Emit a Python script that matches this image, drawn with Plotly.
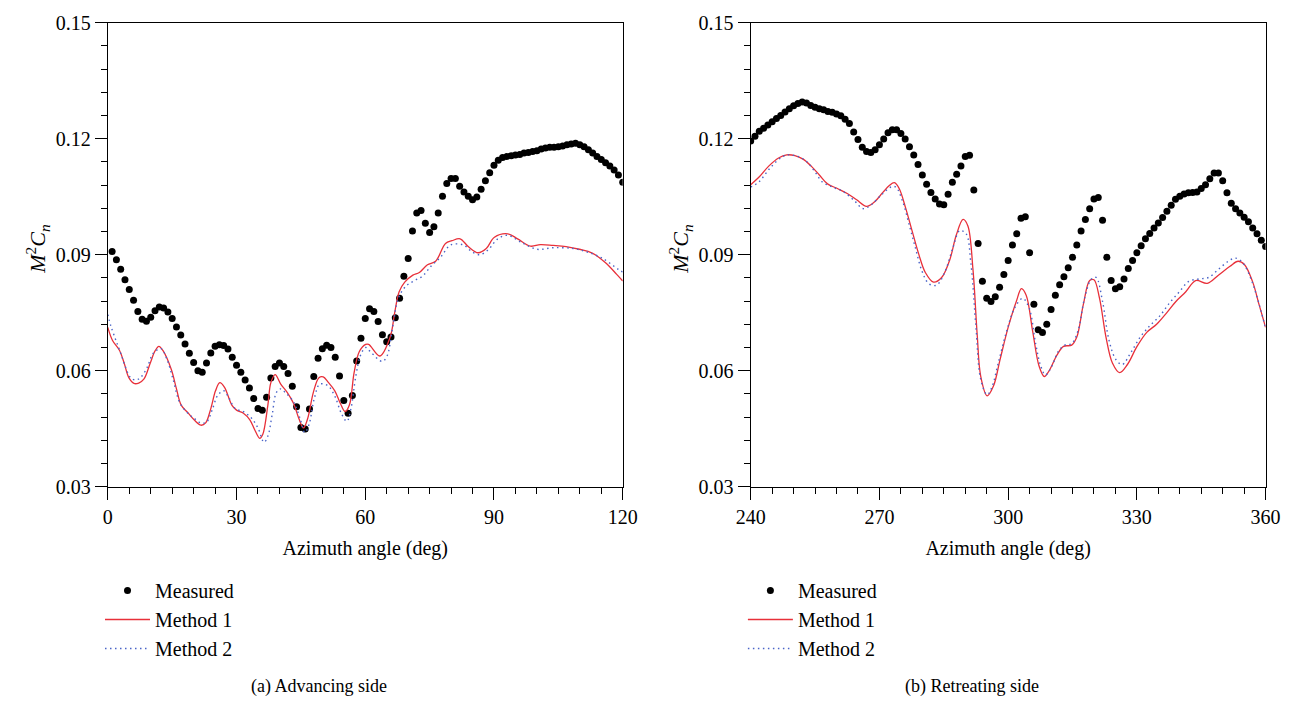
import plotly.graph_objects as go

W, H = 1306, 706

# ---------------- Left panel: advancing side ----------------
adv_meas_deg = list(range(1, 121))
adv_meas_val = [0.0908, 0.0887, 0.0862, 0.0835, 0.0810, 0.0782, 0.0753, 0.0733, 0.0728, 0.0738,
                0.0755, 0.0765, 0.0762, 0.0752, 0.0735, 0.0713, 0.0692, 0.0669, 0.0645, 0.0621,
                0.0600, 0.0596, 0.0620, 0.0646, 0.0663, 0.0667, 0.0665, 0.0656, 0.0635, 0.0614,
                0.0596, 0.0576, 0.0555, 0.0528, 0.0502, 0.0498, 0.0531, 0.0581, 0.0611, 0.0620,
                0.0611, 0.0593, 0.0560, 0.0507, 0.0453, 0.0449, 0.0501, 0.0585, 0.0632, 0.0657,
                0.0666, 0.0660, 0.0635, 0.0586, 0.0523, 0.0490, 0.0536, 0.0625, 0.0684, 0.0735,
                0.0760, 0.0753, 0.0727, 0.0693, 0.0675, 0.0687, 0.0737, 0.0787, 0.0844, 0.0890,
                0.0961, 0.1008, 0.1014, 0.0981, 0.0957, 0.0972, 0.1008, 0.1051, 0.1084, 0.1097,
                0.1097, 0.1077, 0.1062, 0.1051, 0.1042, 0.1049, 0.1069, 0.1091, 0.1112, 0.1131,
                0.1144, 0.1151, 0.1154, 0.1156, 0.1158, 0.1159, 0.1163, 0.1164, 0.1167, 0.1169,
                0.1173, 0.1176, 0.1178, 0.1178, 0.1179, 0.1181, 0.1184, 0.1186, 0.1188, 0.1184,
                0.1179, 0.1171, 0.1163, 0.1154, 0.1146, 0.1138, 0.1129, 0.1119, 0.1106, 0.1087]

adv_m1_deg = [0, 1.1, 2.7, 3.8, 4.9, 6.1, 7.2, 8.4, 9.9, 11.0, 11.9, 12.9, 14.8, 16.0, 17.1, 18.6,
              20.1, 21.7, 22.8, 24.0, 25.1, 26.1, 27.2, 28.9, 30.0, 31.6, 33.1, 34.2, 35.4, 36.1,
              37.3, 38.0, 39.0, 40.3, 41.8, 43.3, 44.5, 45.6, 46.6, 47.9, 49.2, 50.2, 51.3, 52.9,
              54.2, 55.3, 56.3, 57.4, 58.6, 60.1, 60.8, 63.4, 65.8, 66.9, 67.9, 69.2, 71.1, 72.6,
              74.5, 76.4, 78.7, 80.2, 82.1, 84.0, 86.3, 88.2, 90.1, 93.2, 95.5, 98.5, 100.8, 103.8,
              106.8, 109.9, 112.9, 116.0, 118.6, 120.0]
adv_m1_val = [0.0712, 0.0678, 0.0653, 0.0620, 0.0582, 0.0567, 0.0568, 0.0578, 0.0620, 0.0651,
              0.0663, 0.0651, 0.0603, 0.0553, 0.0511, 0.0492, 0.0473, 0.0459, 0.0465, 0.0502,
              0.0548, 0.0569, 0.0557, 0.0511, 0.0498, 0.0490, 0.0473, 0.0448, 0.0425, 0.0435,
              0.0511, 0.0569, 0.0590, 0.0565, 0.0544, 0.0515, 0.0477, 0.0452, 0.0477, 0.0544,
              0.0582, 0.0584, 0.0571, 0.0548, 0.0515, 0.0494, 0.0511, 0.0595, 0.0649, 0.0668,
              0.0668, 0.0638, 0.0687, 0.0753, 0.0804, 0.0829, 0.0847, 0.0854, 0.0874, 0.0883,
              0.0929, 0.0936, 0.0941, 0.0921, 0.0905, 0.0916, 0.0945, 0.0954, 0.0941, 0.0922,
              0.0926, 0.0924, 0.0921, 0.0914, 0.0904, 0.0879, 0.0849, 0.0832]

adv_m2_deg = [0, 0.7, 1.9, 3.0, 4.2, 5.3, 6.5, 7.6, 9.1, 10.6, 12.4, 13.7, 15.2, 16.7, 18.3, 20.1,
              21.7, 23.0, 24.3, 25.6, 27.0, 28.1, 29.7, 31.6, 33.5, 35.0, 36.4, 37.3, 38.3, 39.3,
              40.3, 41.4, 43.3, 44.9, 45.9, 46.9, 48.1, 49.4, 51.3, 53.0, 54.4, 55.7, 56.6, 57.8,
              58.9, 60.1, 61.2, 63.9, 65.0, 66.5, 67.7, 69.6, 71.5, 73.4, 75.3, 77.6, 79.9, 82.9,
              84.8, 86.7, 88.6, 90.9, 93.2, 96.2, 100.0, 103.8, 108.4, 111.4, 115.2, 119.0, 120.0]
adv_m2_val = [0.0745, 0.0716, 0.0678, 0.0645, 0.0607, 0.0582, 0.0576, 0.0582, 0.0607, 0.0645,
              0.0657, 0.0632, 0.0578, 0.0519, 0.0494, 0.0477, 0.0465, 0.0467, 0.0498, 0.0536,
              0.0548, 0.0532, 0.0502, 0.0494, 0.0477, 0.0452, 0.0415, 0.0431, 0.0486, 0.0544,
              0.0553, 0.0543, 0.0519, 0.0473, 0.0440, 0.0461, 0.0527, 0.0565, 0.0561, 0.0532,
              0.0490, 0.0469, 0.0498, 0.0586, 0.0640, 0.0660, 0.0649, 0.0624, 0.0636, 0.0720,
              0.0787, 0.0820, 0.0833, 0.0845, 0.0870, 0.0894, 0.0925, 0.0925, 0.0908, 0.0900,
              0.0912, 0.0941, 0.0950, 0.0933, 0.0914, 0.0918, 0.0916, 0.0908, 0.0891, 0.0862,
              0.0855]

# ---------------- Right panel: retreating side ----------------
ret_meas_deg = list(range(240, 361))
ret_meas_val = [0.1194, 0.1206, 0.1219, 0.1227, 0.1235, 0.1244, 0.1252, 0.1260, 0.1269, 0.1277,
                0.1285, 0.1291, 0.1295, 0.1292, 0.1286, 0.1281, 0.1277, 0.1275, 0.1270, 0.1268,
                0.1264, 0.1259, 0.1250, 0.1239, 0.1217, 0.1198, 0.1178, 0.1167, 0.1164, 0.1171,
                0.1184, 0.1199, 0.1215, 0.1223, 0.1223, 0.1213, 0.1199, 0.1179, 0.1158, 0.1133,
                0.1106, 0.1082, 0.1061, 0.1044, 0.1031, 0.1029, 0.1056, 0.1087, 0.1108, 0.1129,
                0.1154, 0.1157, 0.1067, 0.0929, 0.0831, 0.0787, 0.0779, 0.0791, 0.0816, 0.0849,
                0.0885, 0.0925, 0.0954, 0.0994, 0.0998, 0.0905, 0.0772, 0.0706, 0.0699, 0.0720,
                0.0758, 0.0795, 0.0822, 0.0843, 0.0866, 0.0893, 0.0925, 0.0961, 0.0991, 0.1019,
                0.1044, 0.1048, 0.0989, 0.0893, 0.0833, 0.0812, 0.0817, 0.0837, 0.0864, 0.0885,
                0.0905, 0.0923, 0.0941, 0.0955, 0.0969, 0.0982, 0.0996, 0.1012, 0.1028, 0.1043,
                0.1051, 0.1057, 0.1060, 0.1061, 0.1062, 0.1071, 0.1081, 0.1096, 0.1111, 0.1111,
                0.1091, 0.1060, 0.1033, 0.1019, 0.1008, 0.0997, 0.0985, 0.0969, 0.0954, 0.0937,
                0.0921]

ret_m1_deg = [240.0, 241.9, 244.2, 246.5, 248.4, 250.3, 252.2, 254.1, 256.0, 257.9, 260.2, 262.5,
              264.7, 267.0, 268.9, 270.8, 272.3, 273.5, 274.6, 276.1, 277.6, 279.2, 280.7, 282.6,
              284.5, 286.4, 287.9, 289.5, 290.6, 291.8, 292.8, 293.6, 295.1, 296.6, 298.1, 300.0,
              301.9, 303.1, 304.2, 305.7, 307.2, 308.4, 309.5, 311.4, 312.9, 314.8, 316.0, 317.5,
              319.0, 320.0, 321.3, 322.8, 324.3, 326.0, 327.8, 330.0, 332.3, 334.6, 336.9, 339.1,
              341.4, 343.7, 346.4, 349.0, 351.7, 353.6, 355.1, 357.0, 358.5, 360.0]
ret_m1_val = [0.1081, 0.1100, 0.1129, 0.1150, 0.1158, 0.1156, 0.1147, 0.1129, 0.1106, 0.1083,
              0.1071, 0.1058, 0.1042, 0.1025, 0.1037, 0.1061, 0.1079, 0.1086, 0.1071, 0.1021,
              0.0962, 0.0900, 0.0854, 0.0829, 0.0841, 0.0887, 0.0950, 0.0991, 0.0975, 0.0862,
              0.0691, 0.0586, 0.0535, 0.0561, 0.0628, 0.0712, 0.0779, 0.0812, 0.0795, 0.0703,
              0.0612, 0.0585, 0.0599, 0.0641, 0.0663, 0.0666, 0.0687, 0.0770, 0.0833, 0.0835,
              0.0787, 0.0687, 0.0620, 0.0595, 0.0616, 0.0662, 0.0699, 0.0720, 0.0749, 0.0779,
              0.0804, 0.0833, 0.0826, 0.0847, 0.0870, 0.0883, 0.0874, 0.0829, 0.0770, 0.0712]

ret_m2_deg = [240.0, 241.9, 244.6, 247.2, 248.7, 251.0, 252.9, 254.8, 256.7, 259.0, 261.6, 264.3,
              266.2, 268.1, 270.4, 272.7, 273.8, 275.4, 276.9, 278.4, 279.9, 281.5, 283.3, 285.2,
              287.1, 288.7, 290.2, 291.3, 292.5, 293.6, 295.1, 296.2, 297.7, 299.6, 301.5, 303.4,
              304.9, 306.4, 307.6, 308.7, 310.2, 311.7, 313.2, 314.8, 316.3, 317.8, 319.4, 320.5,
              322.0, 323.5, 325.1, 326.6, 328.5, 330.8, 333.0, 335.3, 337.6, 339.9, 342.1, 344.4,
              346.7, 349.0, 351.3, 353.0, 354.7, 356.6, 358.1, 360.0]
ret_m2_val = [0.1075, 0.1088, 0.1125, 0.1152, 0.1158, 0.1154, 0.1142, 0.1117, 0.1088, 0.1075,
              0.1063, 0.1038, 0.1019, 0.1029, 0.1054, 0.1075, 0.1075, 0.1038, 0.0979, 0.0917,
              0.0858, 0.0825, 0.0821, 0.0854, 0.0917, 0.0962, 0.0954, 0.0879, 0.0712, 0.0578,
              0.0538, 0.0557, 0.0620, 0.0700, 0.0762, 0.0787, 0.0762, 0.0670, 0.0612, 0.0589,
              0.0612, 0.0650, 0.0666, 0.0670, 0.0704, 0.0787, 0.0837, 0.0841, 0.0779, 0.0679,
              0.0629, 0.0616, 0.0645, 0.0687, 0.0716, 0.0741, 0.0775, 0.0804, 0.0831, 0.0837,
              0.0841, 0.0862, 0.0883, 0.0891, 0.0879, 0.0837, 0.0787, 0.0710]

y_ticks = [0.03, 0.06, 0.09, 0.12, 0.15]
captions = ["(a) Advancing side", "(b) Retreating side"]
series_names = ["Measured", "Method 1", "Method 2"]

FONT = "Liberation Serif"
RED = "#e8303a"
BLUE = "#4a64c8"

# pixel geometry
L1, R1 = 95, 622
L2, R2 = 753, 1280
TOP, BOT = 12, 491


def px(x):
    return x / W


def py(y):
    return 1 - y / H


fig = go.Figure()

panels = [
    (adv_meas_deg, adv_meas_val, adv_m1_deg, adv_m1_val, adv_m2_deg, adv_m2_val, "x", "y", "legend"),
    (ret_meas_deg, ret_meas_val, ret_m1_deg, ret_m1_val, ret_m2_deg, ret_m2_val, "x2", "y2", "legend2"),
]
for md, mv, d1, v1, d2, v2, xa, ya, lg in panels:
    fig.add_trace(go.Scatter(x=md, y=mv, mode="markers", name=series_names[0],
                             marker=dict(color="black", size=7), xaxis=xa, yaxis=ya, legend=lg))
    fig.add_trace(go.Scatter(x=d1, y=v1, mode="lines", name=series_names[1], line_shape="spline",
                             line=dict(color=RED, width=1.3), xaxis=xa, yaxis=ya, legend=lg))
    fig.add_trace(go.Scatter(x=d2, y=v2, mode="lines", name=series_names[2], line_shape="spline",
                             line=dict(color=BLUE, width=1.4, dash="1.5px,3.5px"),
                             xaxis=xa, yaxis=ya, legend=lg))

axis_common = dict(showline=True, linecolor="black", linewidth=1.2, mirror=True,
                   ticks="outside", ticklen=12, tickwidth=1, tickcolor="black",
                   showgrid=False, zeroline=False,
                   tickfont=dict(family=FONT, size=20, color="black"))

xminor = dict(ticks="outside", ticklen=6, tickwidth=1, tickcolor="black", dtick=5, showgrid=False)
yminor = dict(ticks="outside", ticklen=6, tickwidth=1, tickcolor="black", dtick=0.006, showgrid=False)

xtitle = dict(text="Azimuth angle (deg)", font=dict(family=FONT, size=20, color="black"), standoff=14)

legend_common = dict(xanchor="left", yanchor="top",
                     font=dict(family=FONT, size=20, color="black"), bgcolor="rgba(0,0,0,0)",
                     tracegroupgap=0, itemwidth=45)

fig.update_layout(
    width=W, height=H, margin=dict(l=0, r=0, t=0, b=0),
    paper_bgcolor="white", plot_bgcolor="white",
    xaxis=dict(domain=[px(L1), px(R1)], range=[0, 120], tick0=0, dtick=30, minor=xminor,
               anchor="y", title=xtitle, **axis_common),
    yaxis=dict(domain=[py(BOT), py(TOP)], range=[0.03, 0.15], tickvals=y_ticks, tickformat=".2f",
               minor=yminor, anchor="x", **axis_common),
    xaxis2=dict(domain=[px(L2), px(R2)], range=[240, 360], tick0=240, dtick=30, minor=xminor,
                anchor="y2", title=xtitle, **axis_common),
    yaxis2=dict(domain=[py(BOT), py(TOP)], range=[0.03, 0.15], tickvals=y_ticks, tickformat=".2f",
                minor=yminor, anchor="x2", **axis_common),
    legend=dict(x=px(L1 - 8), y=py(578), **legend_common),
    legend2=dict(x=px(L2 - 8), y=py(578), **legend_common),
    showlegend=True,
)

ylab = "<i>M</i><sup>2</sup><i>C</i><sub><i>n</i></sub>"
for xpos in (L1 - 72, L2 - 72):
    fig.add_annotation(x=px(xpos), y=py(245), xref="paper", yref="paper", text=ylab,
                       textangle=-90, showarrow=False, xanchor="center", yanchor="middle",
                       font=dict(family=FONT, size=22, color="black"))

for cap, cx in zip(captions, (311, 980)):
    fig.add_annotation(x=px(cx), y=py(697), xref="paper", yref="paper", text=cap,
                       showarrow=False, xanchor="center", yanchor="middle",
                       font=dict(family=FONT, size=18, color="black"))

fig.write_html("out.html")
